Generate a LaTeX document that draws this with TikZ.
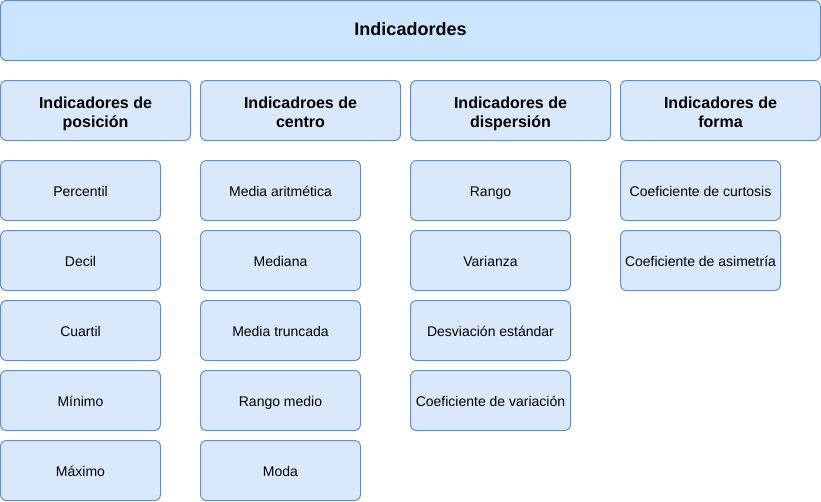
\documentclass[tikz,border=0pt]{standalone}
\usepackage{fontspec}
\setmainfont{Liberation Sans}
\definecolor{topfill}{HTML}{CCE5FF}
\definecolor{boxfill}{HTML}{DAE8FC}
\definecolor{boxline}{HTML}{6C8EBF}
\begin{document}
\begin{tikzpicture}[x=0.75pt,y=-0.75pt,line join=round,
 cajatop/.style={draw=boxline,fill=topfill,line width=0.75pt,rounded corners=4.5pt,anchor=north west,inner sep=0pt,outer sep=0pt,minimum width=615pt,minimum height=45pt,text height=8pt,text depth=0.5pt,font=\fontsize{13.5pt}{16pt}\selectfont\bfseries},
 cajagrupo/.style={draw=boxline,fill=boxfill,line width=0.75pt,rounded corners=4.5pt,anchor=north west,inner sep=0pt,outer sep=0pt,minimum height=45pt,align=center,text height=26.5pt,text depth=0.5pt,font=\fontsize{12pt}{14.6pt}\selectfont\bfseries},
 cajaitem/.style={draw=boxline,fill=boxfill,line width=0.75pt,rounded corners=4.5pt,anchor=north west,inner sep=0pt,outer sep=0pt,minimum width=120pt,minimum height=45pt,text height=9.5pt,text depth=0.5pt,font=\fontsize{10.5pt}{12pt}\selectfont}]
 \useasboundingbox (0,0) rectangle (821,501);
 % titulo
 \node[cajatop] (raiz) at (0.5,0.5) {Indicadordes};
 % grupos
 \node[cajagrupo,minimum width=142.5pt] (posicion) at (0.5,80.5) {Indicadores de\\posición};
 \node[cajagrupo,minimum width=150pt] (centro) at (200.5,80.5) {Indicadroes de\\centro};
 \node[cajagrupo,minimum width=150pt] (dispersion) at (410.5,80.5) {Indicadores de\\dispersión};
 \node[cajagrupo,minimum width=150pt] (forma) at (620.5,80.5) {Indicadores de\\forma};
 % posicion
 \foreach \nombre/\texto [count=\i from 0] in {percentil/Percentil,decil/Decil,cuartil/Cuartil,minimo/Mínimo,maximo/Máximo}
  \node[cajaitem] (\nombre) at (0.5,160.5+70*\i) {\texto};
 % centro
 \foreach \nombre/\texto [count=\i from 0] in {media/Media aritmética,mediana/Mediana,truncada/Media truncada,rangomedio/Rango medio,moda/Moda}
  \node[cajaitem] (\nombre) at (200.5,160.5+70*\i) {\texto};
 % dispersion
 \foreach \nombre/\texto [count=\i from 0] in {rango/Rango,varianza/Varianza,desviacion/Desviación estándar,variacion/Coeficiente de variación}
  \node[cajaitem] (\nombre) at (410.5,160.5+70*\i) {\texto};
 % forma
 \node[cajaitem] (curtosis) at (620.5,160.5) {Coeficiente de curtosis};
 \node[cajaitem] (asimetria) at (620.5,230.5) {Coeficiente de asimetría};
\end{tikzpicture}
\end{document}
